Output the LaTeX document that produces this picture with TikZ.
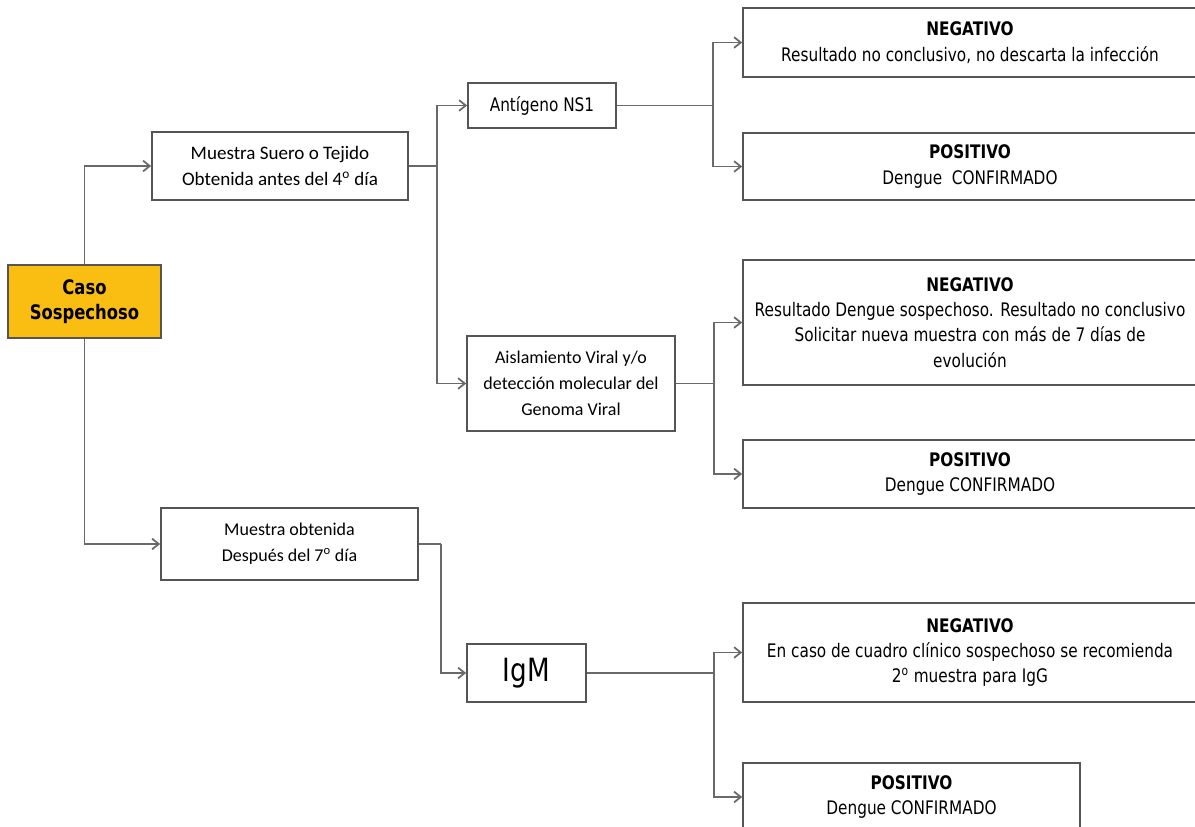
\documentclass[tikz,border=0pt]{standalone}
\usepackage{fontspec}
\usepackage{tikz}
\usetikzlibrary{arrows.meta, positioning}
\newfontfamily\tahomafont[FakeStretch=0.82]{DejaVu Sans}
\newfontfamily\calibrifont{Carlito}
\definecolor{lineGray}{RGB}{105,105,105}
\definecolor{boxGray}{RGB}{85,85,85}
\definecolor{casoGold}{RGB}{250,190,18}

\begin{document}
\begin{tikzpicture}[x=0.75pt, y=-0.75pt,
    box/.style={draw=boxGray, line width=1.3pt, fill=white, align=center, inner sep=0pt},
    res/.style={box, font=\tahomafont\fontsize{14}{19}\selectfont},
    cal/.style={box, font=\calibrifont\fontsize{13.5}{19.5}\selectfont},
    link/.style={draw=lineGray, line width=1.3pt},
    arr/.style={link, -{Straight Barb[length=5pt, width=8pt]}}]
    \clip (0,0) rectangle (1195,827);
    \fill[white] (0,0) rectangle (1195,827);

    % Left column
    \node[box, fill=casoGold, minimum width=114.75pt, minimum height=54.75pt,
          font=\tahomafont\bfseries\fontsize{15}{19}\selectfont] (caso) at (84.5,301.5) {Caso\\Sospechoso};
    \node[cal, minimum width=192pt, minimum height=51pt, font=\calibrifont\fontsize{14.3}{20}\selectfont] (suero) at (280,166)
        {Muestra Suero o Tejido\\Obtenida antes del 4\textsuperscript{o} día};
    \node[cal, minimum width=192.75pt, minimum height=54pt] (despues) at (289.5,544)
        {Muestra obtenida\\Después del 7\textsuperscript{o} día};

    % Tests
    \node[box, minimum width=111pt, minimum height=33.75pt,
          font=\tahomafont\fontsize{14}{19}\selectfont] (ns1) at (542,105.5) {Antígeno NS1};
    \node[cal, minimum width=156pt, minimum height=71.25pt] (viral) at (571,383.5)
        {Aislamiento Viral y/o\\detección molecular del\\Genoma Viral};
    \node[box, minimum width=89.25pt, minimum height=43.5pt,
          font=\tahomafont\fontsize{24}{28}\selectfont] (igm) at (526.5,673) {IgM};

    % Results
    \node[res, minimum width=340.5pt, minimum height=51.75pt] (neg1) at (970,42.5)
        {\textbf{NEGATIVO}\\Resultado no conclusivo, no descarta la infección};
    \node[res, minimum width=340.5pt, minimum height=50.25pt] (pos1) at (970,166.5)
        {\textbf{POSITIVO}\\Dengue\ \ CONFIRMADO};
    \node[res, minimum width=340.5pt, minimum height=93.75pt] (neg2) at (970,322.5)
        {\textbf{NEGATIVO}\\Resultado Dengue sospechoso. Resultado no conclusivo\\Solicitar nueva muestra con más de 7 días de\\evolución};
    \node[res, minimum width=340.5pt, minimum height=51pt] (pos2) at (970,474)
        {\textbf{POSITIVO}\\Dengue CONFIRMADO};
    \node[res, minimum width=340.5pt, minimum height=74.25pt] (neg3) at (970,652.5)
        {\textbf{NEGATIVO}\\En caso de cuadro clínico sospechoso se recomienda\\2\textsuperscript{o} muestra para IgG};
    \node[res, minimum width=252.75pt, minimum height=51pt] (pos3) at (911.5,797)
        {\textbf{POSITIVO}\\Dengue CONFIRMADO};

    % Junctions
    \coordinate (jSuero) at (437,166);
    \coordinate (jNS1) at (713,105.5);
    \coordinate (jViral) at (714,383.5);
    \coordinate (jDespues) at (441,544);
    \coordinate (jIgM) at (714,673);

    % Connectors
    \draw[arr] (caso.north) |- (suero.west);
    \draw[arr] (caso.south) |- (despues.west);
    \draw[link] (suero.east) -- (jSuero);
    \draw[arr] (jSuero) |- (ns1.west);
    \draw[arr] (jSuero) |- (viral.west);
    \draw[link] (ns1.east) -- (jNS1);
    \draw[arr] (jNS1) |- (neg1.west);
    \draw[arr] (jNS1) |- (pos1.west);
    \draw[link] (viral.east) -- (jViral);
    \draw[arr] (jViral) |- (neg2.west);
    \draw[arr] (jViral) |- (pos2.west);
    \draw[link] (despues.east) -- (jDespues);
    \draw[arr] (jDespues) |- (igm.west);
    \draw[link] (igm.east) -- (jIgM);
    \draw[arr] (jIgM) |- (neg3.west);
    \draw[arr] (jIgM) |- (pos3.west);
\end{tikzpicture}
\end{document}
